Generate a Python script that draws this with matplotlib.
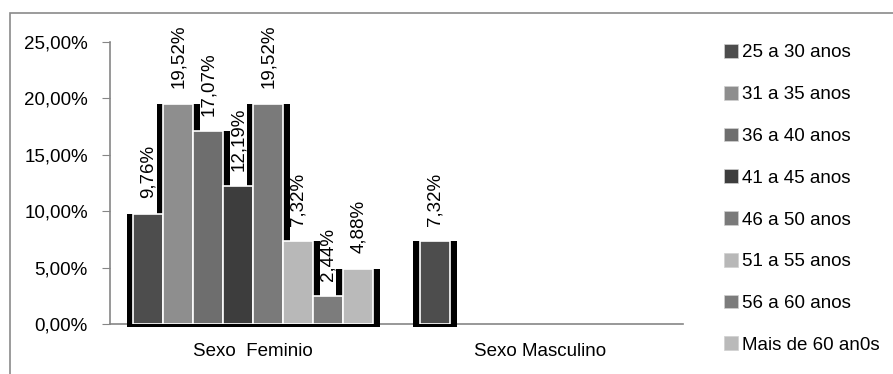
import numpy as np
import matplotlib
matplotlib.use("Agg")
import matplotlib.pyplot as plt
from matplotlib.patches import Patch, Rectangle

plt.rcParams['font.family'] = ['Liberation Sans', 'DejaVu Sans']

# data
categorias = ["Sexo  Feminio", "Sexo Masculino"]
faixas = ["25 a 30 anos", "31 a 35 anos", "36 a 40 anos", "41 a 45 anos",
          "46 a 50 anos", "51 a 55 anos", "56 a 60 anos", "Mais de 60 an0s"]
feminino = [9.76, 19.52, 17.07, 12.19, 19.52, 7.32, 2.44, 4.88]
masculino = [7.32, 0, 0, 0, 0, 0, 0, 0]
cores = ["#4d4d4d", "#8e8e8e", "#6e6e6e", "#3d3d3d",
         "#7a7a7a", "#b8b8b8", "#7c7c7c", "#bababa"]

valores = np.array([feminino, masculino]) / 100.0

fig = plt.figure(figsize=(8.93, 3.74), dpi=100)
ax = fig.add_axes([110/893, 1-324/374, (683-110)/893, (324-42)/374])

x = np.arange(len(categorias))
w = 0.1047
fs = 13.5

# black "shadow" behind each bar
for i in range(len(faixas)):
	for j in range(len(categorias)):
		v = valores[j, i]
		if v <= 0:
			continue
		ax.bar(x[j] + (i-3.5)*w, v + 0.0025, width=w*1.45, bottom=-0.0025,
			   color="black", zorder=1, clip_on=False)

for i in range(len(faixas)):
	pos = x + (i-3.5)*w
	vals = valores[:, i]
	keep = vals > 0
	ax.bar(pos[keep], vals[keep], width=w, color=cores[i], edgecolor="white",
		   linewidth=1.2, zorder=2)
	for p, v in zip(pos[keep], vals[keep]):
		ax.text(p, v + 0.014, "{:.2f}%".format(v*100).replace(".", ","),
				rotation=90, ha="center", va="bottom", fontsize=fs, zorder=3)

ax.set_xlim(-0.5, 1.5)
ax.set_ylim(0, 0.25)
ticks = np.arange(0, 0.2501, 0.05)
ax.set_yticks(ticks)
ax.set_yticklabels(["{:.2f}%".format(t*100).replace(".", ",") for t in ticks], fontsize=fs)
ax.set_xticks(x)
ax.set_xticklabels(categorias, fontsize=fs)
ax.tick_params(axis="x", length=0, pad=14)
ax.tick_params(axis="y", length=6, color="#868686", pad=10, direction="out")
for s in ["top", "right"]:
	ax.spines[s].set_visible(False)
for s in ["left", "bottom"]:
	ax.spines[s].set_color("#868686")
	ax.spines[s].set_linewidth(1.2)
	ax.spines[s].set_zorder(0)

handles = [Patch(facecolor=c, edgecolor="#d0d0d0", linewidth=0.5) for c in cores]
fig.legend(handles, faixas, loc="upper left", bbox_to_anchor=(724/893, 1-44/374),
		   frameon=False, fontsize=fs, handlelength=0.75, handleheight=0.75,
		   handletextpad=0.2, labelspacing=1.3, borderaxespad=0, borderpad=0)

# outer chart frame
fig.patches.append(Rectangle((10/893, -0.1), 1.2, 1.1 - 13/374, transform=fig.transFigure,
							 fill=False, edgecolor="#8a8a8a", linewidth=1.2))

plt.savefig("out.png", dpi=100)
